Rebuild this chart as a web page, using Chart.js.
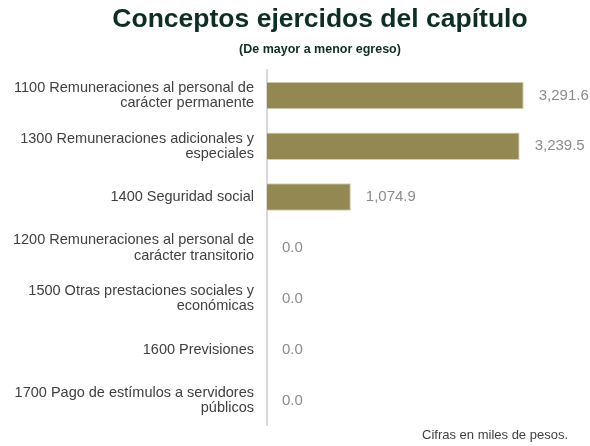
<!DOCTYPE html>
<html lang="es">
<head>
<meta charset="utf-8">
<title>Conceptos ejercidos del capítulo</title>
<script src="https://cdn.jsdelivr.net/npm/chart.js@4/dist/chart.umd.min.js"></script>
<style>
  html, body { margin:0; padding:0; background:#fff; }
  #wrap { position:relative; width:590px; height:446px; font-family:"Liberation Sans", Arial, sans-serif; }
  #chart { position:absolute; left:0; top:0; }
  .titulo { position:absolute; left:30px; width:580px; text-align:center; top:3px; font-size:26.5px; font-weight:bold; color:#0c2e25; }
  .subtitulo { position:absolute; left:30px; width:580px; text-align:center; top:42px; font-size:12.5px; font-weight:bold; color:#0c2e25; }
  .nota { position:absolute; right:22px; top:427px; font-size:13px; color:#404040; }
</style>
</head>
<body>
<div id="wrap">
  <canvas id="chart" width="590" height="446"></canvas>
  <div class="titulo">Conceptos ejercidos del capítulo</div>
  <div class="subtitulo">(De mayor a menor egreso)</div>
  <div class="nota">Cifras en miles de pesos.</div>
</div>
<script>
// conceptos del capítulo 1000, ordenados de mayor a menor egreso
const conceptos = [
  ["1100 Remuneraciones al personal de", "carácter permanente"],
  ["1300 Remuneraciones adicionales y", "especiales"],
  "1400 Seguridad social",
  ["1200 Remuneraciones al personal de", "carácter transitorio"],
  ["1500 Otras prestaciones sociales y", "económicas"],
  "1600 Previsiones",
  ["1700 Pago de estímulos a servidores", "públicos"]
];
const ejercido = [3291.6, 3239.5, 1074.9, 0.0, 0.0, 0.0, 0.0];

const fmt = v => v.toLocaleString('en-US', {minimumFractionDigits:1, maximumFractionDigits:1});

// etiqueta de valor a la derecha de cada barra
const etiquetas = {
  id:'etiquetas',
  afterDatasetsDraw(chart){
    const {ctx} = chart;
    const meta = chart.getDatasetMeta(0);
    ctx.save();
    ctx.font = '15px "Liberation Sans", Arial, sans-serif';
    ctx.fillStyle = '#8c8c8c';
    ctx.textAlign = 'left';
    ctx.textBaseline = 'middle';
    meta.data.forEach((bar, i)=>{
      ctx.fillText(fmt(ejercido[i]), bar.x + 15, bar.y);
    });
    ctx.restore();
  }
};

new Chart(document.getElementById('chart'), {
  type:'bar',
  data:{
    labels: conceptos,
    datasets:[{
      data: ejercido,
      backgroundColor:'#938752',
      borderColor:'#d6cfae',
      borderWidth:1,
      barPercentage:0.54,
      categoryPercentage:1
    }]
  },
  options:{
    indexAxis:'y',
    responsive:false,
    animation:false,
    layout:{ padding:{ top:70, bottom:14, right:29, left:0 } },
    plugins:{ legend:{display:false}, tooltip:{enabled:false} },
    scales:{
      x:{ display:false, min:0, max:3770 },
      y:{
        grid:{ display:false },
        border:{ display:true, color:'#d9d9d9', width:2 },
        ticks:{
          padding:5,
          color:'#404040',
          font:{ family:'"Liberation Sans", Arial, sans-serif', size:14.5, lineHeight:1.05 }
        },
        afterFit(s){ s.width = 267; }
      }
    }
  },
  plugins:[etiquetas]
});
</script>
</body>
</html>
